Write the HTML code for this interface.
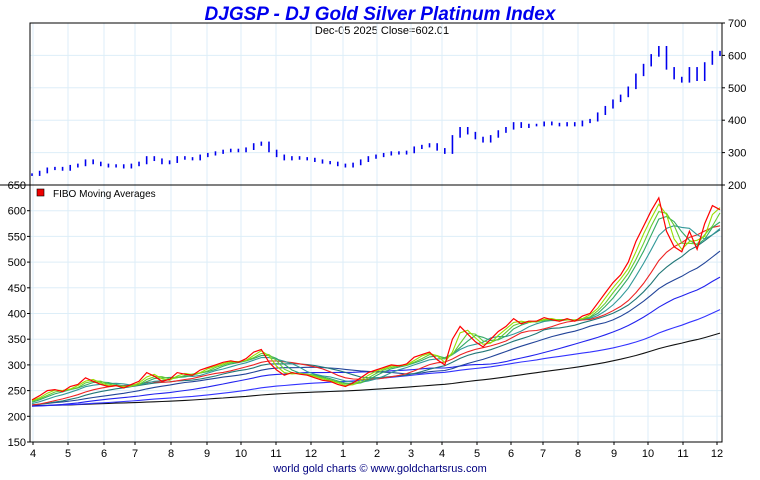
<!DOCTYPE html>
<html><head><meta charset="utf-8"><style>
body{margin:0;background:#fff;width:760px;height:475px;overflow:hidden;font-family:"Liberation Sans",sans-serif}
svg text{font-family:"Liberation Sans",sans-serif}
</style></head><body>
<svg id="c" width="760" height="475" xmlns="http://www.w3.org/2000/svg">
<text x="380" y="20" text-anchor="middle" font-size="19" font-weight="bold" font-style="italic" fill="#0000ee">DJGSP - DJ Gold Silver Platinum Index</text>
<text x="382" y="34" text-anchor="middle" font-size="11" fill="#000">Dec-05  2025  Close=602.01</text>
<text x="380" y="472" text-anchor="middle" font-size="11" fill="#000080">world gold charts © www.goldchartsrus.com</text>
<g id="grid"></g><g id="series"></g><g id="axes"></g>
</svg>
<script>
const monthLabels=["4","5","6","7","8","9","10","11","12","1","2","3","4","5","6","7","8","9","10","11","12"];
const monthX=[33,68,104,135,171,207,241,276,311,343,377,411,442,477,511,543,578,614,648,683,717];
const topTicks=[700,600,500,400,300,200];
const botTicks=[650,600,550,500,450,400,350,300,250,200,150];
const preHistory=[228,230,232,229,226,224,222,220,218,216,218,220,222,225,228,230,228,226,224,222,220,218,216,215,214,
230,228,225,222,220,218,215,215,220,222,225,228,225,222,220,218,215,212,210,212,215,218,220,222,225,228,226,224,222,220,218,215,213,210,208,210,212,215,218,220,222,225,228,226,224,222,220,218,217,216,218,220,222,226,230];
const prices=[232,240,250,252, 248,258,262,275,268, 262,258,260,255, 262,268,285,278, 268,272,285,282,280, 290,295,300,305, 308,305,312,325,330, 305,290,280,285, 282,280,275,270,268,
262,258,265,275, 285,290,295,300, 298,302,315,320,325, 310,300,350,375, 360,345,335,350, 365,375,390,380,385, 385,392,388,385, 390,385,395,400, 420,440,460,475,500, 540,570,600,625,560, 530,520,560,525, 575,610,602];
const maPeriods=[2,3,4,6,10,13,19,30,50,80];
const maColors=["#99dd00","#66cc33","#33aa66","#339999","#ee2222","#227777","#224499","#2222ee","#3333ff","#111111"];

const NS="http://www.w3.org/2000/svg";
const L=30,R=722,T1=23,B1=185,T2=185,B2=442;
const yTop=v=>T1+(700-v)*(B1-T1)/500;
const yBot=v=>T2+(650-v)*(B2-T2)/500;
const xi=i=>L+2+i*(R-L-4)/(prices.length-1);
function mk(tag,attrs,parent){const e=document.createElementNS(NS,tag);for(const k in attrs)e.setAttribute(k,attrs[k]);parent.appendChild(e);return e;}
const grid=document.getElementById('grid'),ser=document.getElementById('series'),ax=document.getElementById('axes');
monthX.forEach(x=>{
 const g=mk('line',{x1:x,x2:x,y1:T1,y2:B2,stroke:'#ddeef8','stroke-width':1},grid);
 
 
});
topTicks.forEach(v=>{
 const y=yTop(v);
 const g=mk('line',{x1:L,x2:R,y1:y,y2:y,stroke:'#ddeef8'},grid);
 
 
 const t=mk('text',{x:R+6,y:y+4,'font-size':11},ax);t.textContent=v;
 
 
 mk('line',{x1:R,x2:R+3,y1:y,y2:y,stroke:'#000'},ax);
});
botTicks.forEach(v=>{
 const y=yBot(v);
 const g=mk('line',{x1:L,x2:R,y1:y,y2:y,stroke:'#ddeef8'},grid);
 
 
 const t=mk('text',{x:L-4,y:y+4,'font-size':11,'text-anchor':'end'},ax);t.textContent=v;
 
 
 mk('line',{x1:L-3,x2:L,y1:y,y2:y,stroke:'#000'},ax);
});
monthLabels.forEach((m,i)=>{
 const t=mk('text',{x:monthX[i],y:B2+15,'font-size':11,'text-anchor':'middle'},ax);t.textContent=m;
 
 
 mk('line',{x1:monthX[i],x2:monthX[i],y1:B2,y2:B2+3,stroke:'#000'},ax);
});
prices.forEach((p,i)=>{
 const prev=i>0?prices[i-1]:p;
 const hi=Math.max(p,prev)+4,lo=Math.min(p,prev)-4;
 const b=mk('line',{x1:xi(i),x2:xi(i),y1:yTop(hi),y2:yTop(lo),stroke:'#0000ee','stroke-width':1.6},ser);
 
 
});
const all=preHistory.concat(prices),off=preHistory.length;
maPeriods.slice().reverse().forEach((per,k)=>{
 const ci=maPeriods.length-1-k;
 let d='';
 prices.forEach((p,i)=>{
  const j=i+off;let s=0;for(let q=j-per+1;q<=j;q++)s+=all[q];
  d+=(i?'L':'M')+xi(i).toFixed(1)+','+yBot(s/per).toFixed(1);
 });
 const pl=mk('path',{d:d,fill:'none',stroke:maColors[ci],'stroke-width':1.1},ser);
 
 
});
let d='';prices.forEach((p,i)=>{d+=(i?'L':'M')+xi(i).toFixed(1)+','+yBot(p).toFixed(1);});
const pl=mk('path',{d:d,fill:'none',stroke:'#ff0000','stroke-width':1.2},ser);


const f1=mk('rect',{x:L,y:T1,width:R-L,height:B1-T1,fill:'none',stroke:'#000'},ax);


const f2=mk('rect',{x:L,y:T2,width:R-L,height:B2-T2,fill:'none',stroke:'#000'},ax);


mk('line',{x1:0,x2:L,y1:T2,y2:T2,stroke:'#000'},ax);
const lg=mk('rect',{x:37,y:189,width:7,height:7,fill:'#ee0000',stroke:'#000','stroke-width':0.6},ax);


const lt=mk('text',{x:53,y:197,'font-size':10},ax);lt.textContent='FIBO  Moving  Averages';


</script>
</body></html>
